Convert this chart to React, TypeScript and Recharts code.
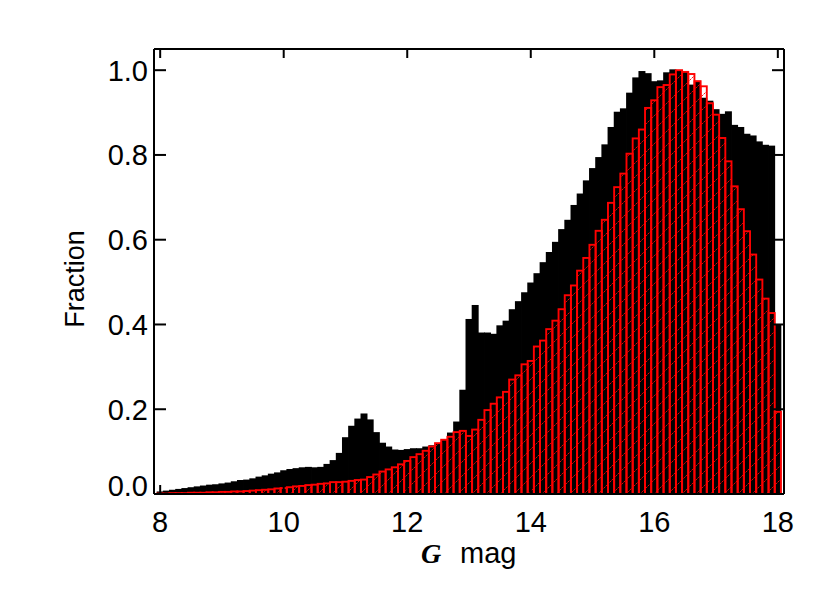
import React from 'react';
import { ComposedChart, Bar, XAxis, YAxis } from 'recharts';

// Bin centres (G mag), 0.1 mag bins from 8.0 to 18.0
const binCenters: number[] = Array.from({ length: 101 }, (_, i) => Math.round(80 + i) / 10);

// Black filled histogram (full sample)
const allStars: number[] = [
  0.006, 0.008, 0.010, 0.012, 0.014, 0.016, 0.018, 0.020, 0.022, 0.023,
  0.025, 0.027, 0.030, 0.033, 0.034, 0.037, 0.041, 0.044, 0.048, 0.051,
  0.056, 0.059, 0.061, 0.063, 0.064, 0.063, 0.064, 0.071, 0.080, 0.097,
  0.134, 0.161, 0.178, 0.190, 0.176, 0.146, 0.121, 0.112, 0.105, 0.104,
  0.106, 0.108, 0.108, 0.112, 0.115, 0.120, 0.129, 0.145, 0.171, 0.246,
  0.413, 0.446, 0.381, 0.381, 0.378, 0.398, 0.409, 0.436, 0.455, 0.476,
  0.499, 0.521, 0.547, 0.571, 0.595, 0.625, 0.647, 0.682, 0.709, 0.740,
  0.769, 0.795, 0.825, 0.866, 0.902, 0.910, 0.947, 0.983, 0.998, 0.993,
  0.974, 0.976, 0.995, 1.002, 1.000, 0.998, 0.966, 0.975, 0.935, 0.928,
  0.908, 0.897, 0.903, 0.871, 0.866, 0.850, 0.846, 0.832, 0.824, 0.822,
  0.400,
];

// Red hatched histogram (sub-sample)
const subSample: number[] = [
  0.001, 0.001, 0.002, 0.002, 0.002, 0.003, 0.003, 0.003, 0.004, 0.004,
  0.005, 0.005, 0.006, 0.006, 0.007, 0.008, 0.009, 0.010, 0.011, 0.013,
  0.014, 0.016, 0.018, 0.019, 0.021, 0.022, 0.024, 0.025, 0.028, 0.028,
  0.029, 0.031, 0.033, 0.034, 0.040, 0.046, 0.053, 0.058, 0.063, 0.070,
  0.078, 0.087, 0.094, 0.102, 0.112, 0.120, 0.128, 0.135, 0.146, 0.149,
  0.137, 0.152, 0.175, 0.198, 0.213, 0.228, 0.241, 0.270, 0.280, 0.306,
  0.314, 0.348, 0.362, 0.389, 0.409, 0.436, 0.469, 0.492, 0.527, 0.557,
  0.588, 0.621, 0.647, 0.687, 0.724, 0.756, 0.803, 0.839, 0.860, 0.911,
  0.929, 0.960, 0.965, 0.990, 1.000, 0.996, 0.991, 0.974, 0.962, 0.922,
  0.895, 0.840, 0.785, 0.726, 0.672, 0.620, 0.565, 0.506, 0.461, 0.427,
  0.194,
];

const yTickValues: number[] = [0, 0.2, 0.4, 0.6, 0.8, 1.0];
const xLabelText = 'mag';
const xLabelSymbol = 'G';
const yLabelText = 'Fraction';

const rows = binCenters.map((x, i) => ({ x, all: allStars[i], sub: subSample[i] }));

const W = 830;
const H = 593;
const PLOT = { left: 154, right: 784, top: 49, bottom: 494 };
const X_MIN = 7.9;
const X_MAX = 18.1;
const PX_PER_MAG = (PLOT.right - PLOT.left) / (X_MAX - X_MIN);
const EDGE_PAD = 0.05 * PX_PER_MAG; // 7.90 -> 7.95 (first bin edge)
const BAND = 0.1 * PX_PER_MAG;
const FONT = '"Liberation Sans", Arial, Helvetica, sans-serif';
const RED = '#ff0000';

const BottomTick = (props: any) => {
  const { x, payload } = props;
  return (
    <g>
      <line x1={x} y1={PLOT.bottom} x2={x} y2={PLOT.bottom - 9} stroke="#000" strokeWidth={2} />
      <text x={x} y={531.5} textAnchor="middle" fontSize={29} fontFamily={FONT} fill="#000">
        {String(payload.value)}
      </text>
    </g>
  );
};

const TopTick = (props: any) => {
  const { x } = props;
  return <line x1={x} y1={PLOT.top} x2={x} y2={PLOT.top + 9} stroke="#000" strokeWidth={2} />;
};

const LeftTick = (props: any) => {
  const { y, payload } = props;
  const v = Number(payload.value);
  return (
    <g>
      <line x1={PLOT.left} y1={y} x2={PLOT.left + 12} y2={y} stroke="#000" strokeWidth={2} />
      <text x={148} y={v === 0 ? y + 2 : y + 10.5} textAnchor="end" fontSize={29} fontFamily={FONT} fill="#000">
        {v.toFixed(1)}
      </text>
    </g>
  );
};

const RightTick = (props: any) => {
  const { y } = props;
  return <line x1={PLOT.right} y1={y} x2={PLOT.right - 12} y2={y} stroke="#000" strokeWidth={2} />;
};

const XLabel = () => (
  <g>
    <text x={421} y={563} fontSize={28} fontFamily='"Liberation Serif", "Times New Roman", serif'
      fontStyle="italic" fontWeight="bold" fill="#000">{xLabelSymbol}</text>
    <text x={460} y={563} fontSize={29} fontFamily={FONT} fill="#000">{xLabelText}</text>
  </g>
);

const YLabel = () => (
  <text transform="translate(84 279) rotate(-90)" x={0} y={0} textAnchor="middle" fontSize={27}
    fontFamily={FONT} fill="#000">{yLabelText}</text>
);

// Solid black bin: slightly widened so neighbouring bins merge without seams
const BlackBin = (props: any) => {
  const { x, y, height } = props;
  if (height == null || !isFinite(height)) return null;
  return <rect x={x - 0.4} y={y} width={BAND + 0.8} height={height} fill="#000" />;
};

// Red outlined, hatched bin
const RedBin = (props: any) => {
  const { x, y, height } = props;
  if (height == null || !isFinite(height)) return null;
  return (
    <rect x={x} y={y} width={BAND} height={Math.max(height, 0.3)} fill="url(#redHatch)"
      stroke={RED} strokeWidth={1.9} />
  );
};

export default function App() {
  const axisLine = { stroke: '#000', strokeWidth: 2 };
  return (
    <div style={{ position: 'absolute', left: 0, top: 0, width: W, height: H, background: '#fff' }}>
      <svg width={0} height={0} style={{ position: 'absolute' }}>
        <defs>
          <pattern id="redHatch" patternUnits="userSpaceOnUse" width={14} height={14}>
            <path d="M-3.5,3.5 L3.5,-3.5 M0,14 L14,0 M10.5,17.5 L17.5,10.5" stroke={RED}
              strokeWidth={1} strokeOpacity={0.9} strokeDasharray="2 0.7" />
          </pattern>
        </defs>
      </svg>
      <ComposedChart
        width={W}
        height={H}
        data={rows}
        margin={{ top: PLOT.top - 20, right: W - PLOT.right - 20, bottom: H - PLOT.bottom - 40, left: PLOT.left - 60 }}
        barCategoryGap={0}
        barGap={0}
      >
        <Bar dataKey="all" xAxisId="bottom" yAxisId="left" fill="#000" barSize={BAND}
          shape={BlackBin} isAnimationActive={false} />
        <Bar dataKey="sub" xAxisId="top" yAxisId="right" fill="url(#redHatch)" stroke={RED}
          barSize={BAND} shape={RedBin} isAnimationActive={false} />
        <XAxis xAxisId="bottom" dataKey="x" type="category" orientation="bottom" height={40}
          padding={{ left: EDGE_PAD, right: EDGE_PAD }} interval={19} axisLine={axisLine} tickLine={false}
          tick={BottomTick} label={XLabel} />
        <XAxis xAxisId="top" dataKey="x" type="category" orientation="top" height={20}
          padding={{ left: EDGE_PAD, right: EDGE_PAD }} interval={19} axisLine={axisLine} tickLine={false}
          tick={TopTick} />
        <YAxis yAxisId="left" type="number" domain={[0, 1.05]} allowDataOverflow ticks={yTickValues}
          width={60} axisLine={axisLine} tickLine={false} tick={LeftTick} label={YLabel} />
        <YAxis yAxisId="right" orientation="right" type="number" domain={[0, 1.05]} allowDataOverflow
          ticks={yTickValues} width={20} axisLine={axisLine} tickLine={false} tick={RightTick} />
      </ComposedChart>
    </div>
  );
}
